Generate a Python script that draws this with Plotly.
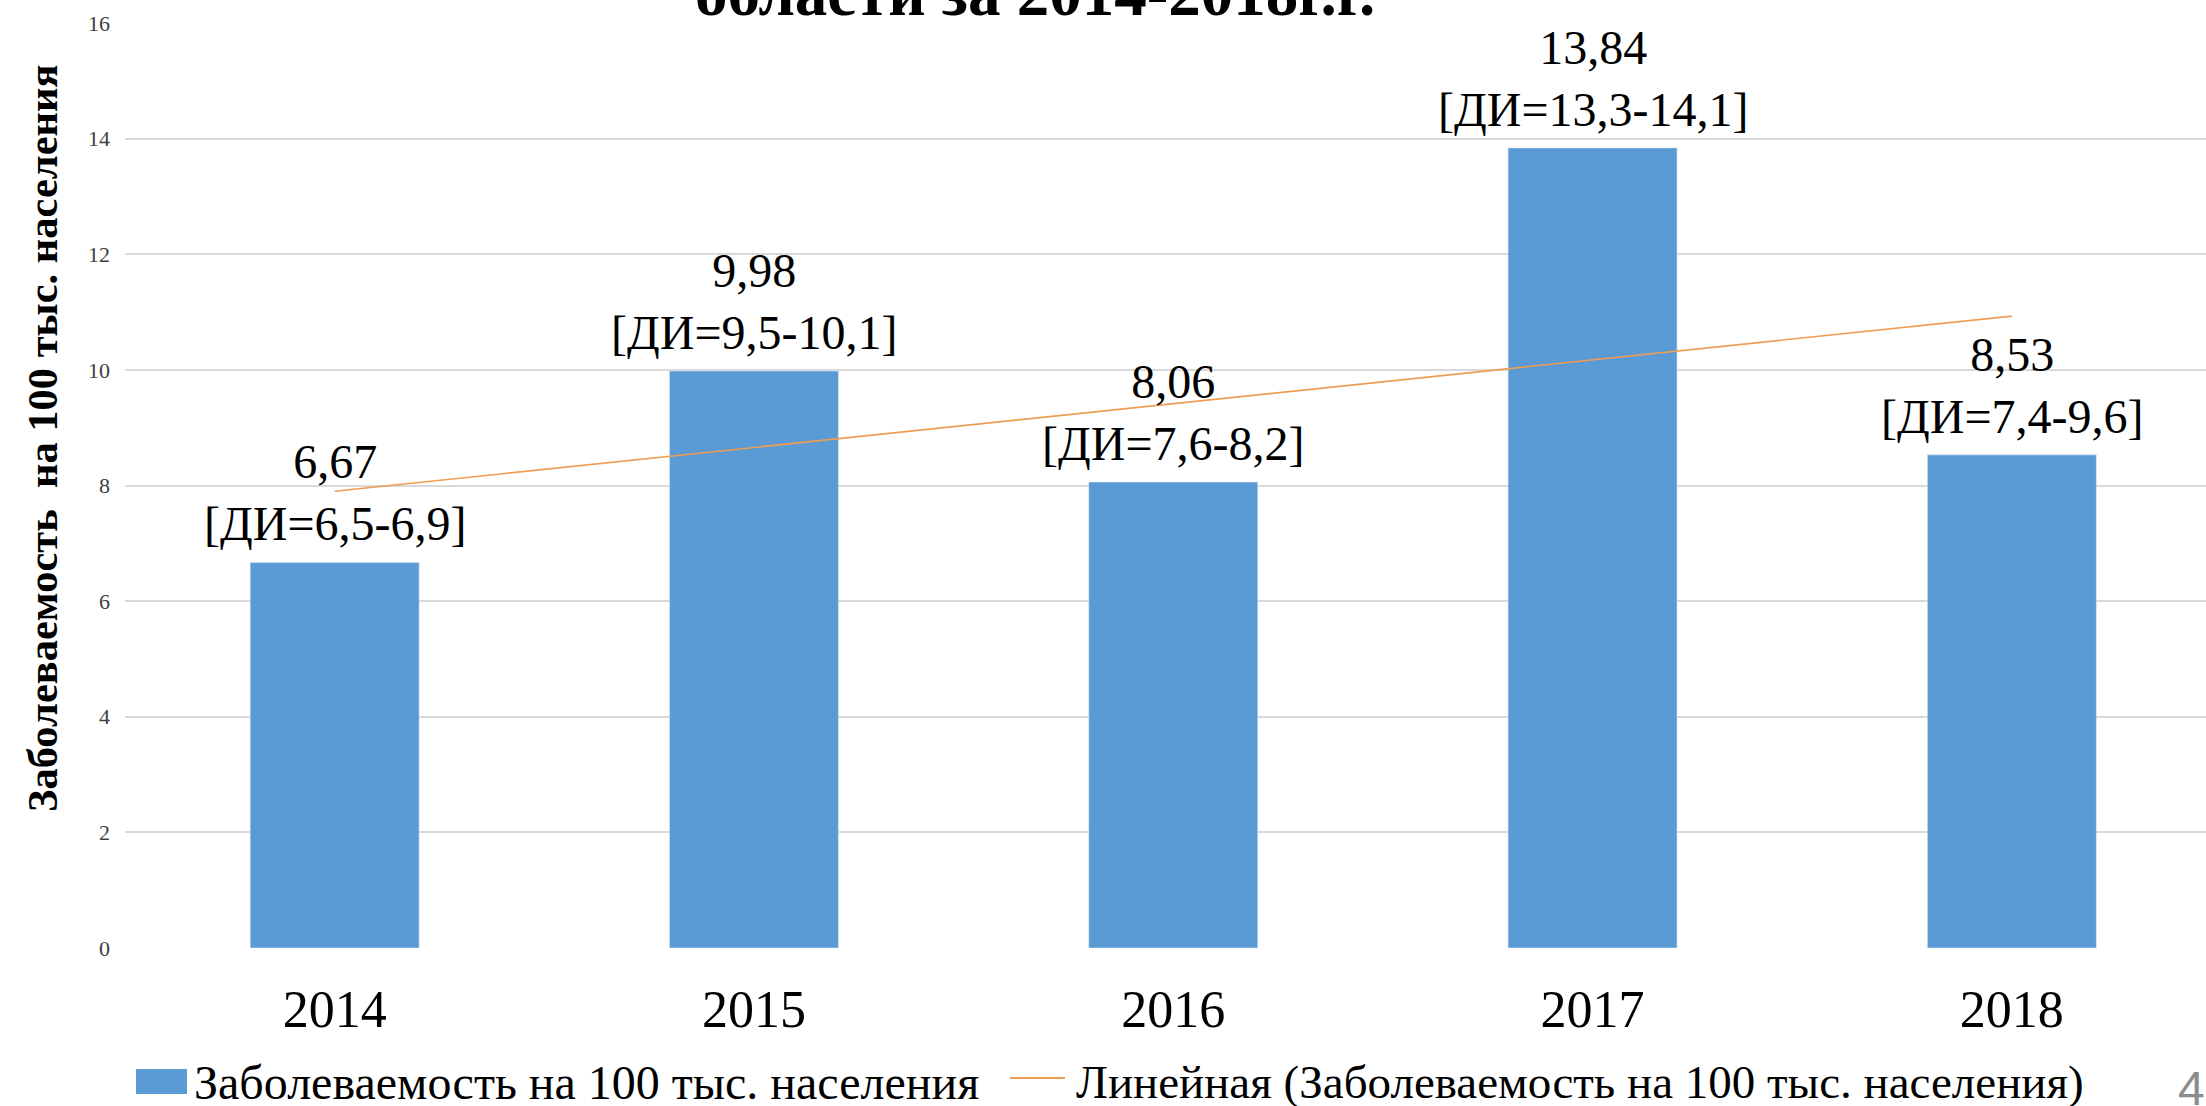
import plotly.graph_objects as go

years = ["2014", "2015", "2016", "2017", "2018"]
rates = [6.67, 9.98, 8.06, 13.84, 8.53]
value_labels = ["6,67", "9,98", "8,06", "13,84", "8,53"]
ci_labels = ["[ДИ=6,5-6,9]", "[ДИ=9,5-10,1]", "[ДИ=7,6-8,2]", "[ДИ=13,3-14,1]", "[ДИ=7,4-9,6]"]
trend_years = ["2014", "2018"]
trend_values = [7.90, 10.93]
y_ticks = [0, 2, 4, 6, 8, 10, 12, 14, 16]

series_name = "Заболеваемость на 100 тыс. населения"
trend_name = "Линейная (Заболеваемость на 100 тыс. населения)"
y_title = "Заболеваемость  на 100 тыс. населения"
title_text = "области за 2014-2018г.г."

BLUE = "#5B9BD5"
ORANGE = "#EE9D52"
SERIF = "Liberation Serif, Times New Roman, serif"

W, H = 2206, 1106
ML, MR, MT, MB = 125, 0, 23, 158
PW, PH = W - ML - MR, H - MT - MB

def px_x(px):
    return (px - ML) / PW

def px_y(py):
    return (H - MB - py) / PH

fig = go.Figure()
fig.add_trace(go.Bar(x=years, y=rates, name=series_name, marker_color=BLUE,
                     width=0.403, showlegend=False))
fig.add_trace(go.Scatter(x=trend_years, y=trend_values, mode="lines", name=trend_name,
                         line=dict(color=ORANGE, width=1.6), showlegend=False))

annotations = []
for i, (v, vl, ci) in enumerate(zip(rates, value_labels, ci_labels)):
    annotations.append(dict(x=i, y=v, xref="x", yref="y", text=vl + "<br>" + ci,
                            showarrow=False, yanchor="bottom", yshift=10,
                            font=dict(family=SERIF, size=48, color="#000000")))

# title (partially cut off at top)
annotations.append(dict(x=px_x(1035), y=px_y(31), xref="paper", yref="paper", text="<b>" + title_text + "</b>",
                        showarrow=False, xanchor="center", yanchor="bottom",
                        font=dict(family=SERIF, size=65, color="#000000")))
# y-axis title
annotations.append(dict(x=px_x(42), y=px_y(438), xref="paper", yref="paper", text="<b>" + y_title + "</b>",
                        showarrow=False, textangle=-90, xanchor="center", yanchor="middle",
                        font=dict(family=SERIF, size=42.5, color="#000000")))
# legend texts
annotations.append(dict(x=px_x(192), y=px_y(1082), xref="paper", yref="paper", text=series_name,
                        showarrow=False, xanchor="left", yanchor="middle",
                        font=dict(family=SERIF, size=48, color="#000000")))
annotations.append(dict(x=px_x(1074), y=px_y(1082), xref="paper", yref="paper", text=trend_name,
                        showarrow=False, xanchor="left", yanchor="middle",
                        font=dict(family=SERIF, size=47, color="#000000")))
# slide number
annotations.append(dict(x=px_x(2176), y=px_y(1088), xref="paper", yref="paper", text="4",
                        showarrow=False, xanchor="left", yanchor="middle",
                        font=dict(family="Liberation Sans, Arial, sans-serif", size=48, color="#8C8C8C")))

shapes = [
    dict(type="rect", xref="paper", yref="paper", x0=px_x(136), x1=px_x(187), y0=px_y(1094), y1=px_y(1069),
         fillcolor=BLUE, line=dict(width=0)),
    dict(type="line", xref="paper", yref="paper", x0=px_x(1010), x1=px_x(1065), y0=px_y(1078), y1=px_y(1078),
         line=dict(color=ORANGE, width=2)),
]

fig.update_layout(
    width=W, height=H,
    margin=dict(l=ML, r=MR, t=MT, b=MB, pad=0),
    paper_bgcolor="white", plot_bgcolor="white",
    showlegend=False,
    annotations=annotations, shapes=shapes,
    xaxis=dict(type="category", range=[-0.5, 4.463], showgrid=False, zeroline=False, showline=False,
               ticks="", tickfont=dict(family=SERIF, size=52, color="#000000"), ticklabelstandoff=26),
    yaxis=dict(range=[0, 16], tickvals=y_ticks, ticktext=[str(t) for t in y_ticks],
               showgrid=True, gridcolor="#D9D9D9", gridwidth=2, zeroline=False, showline=False,
               ticks="", tickfont=dict(family=SERIF, size=22, color="#404040"), ticklabelstandoff=14),
)

fig.write_html("out.html", config={"displayModeBar": False},
               post_script="document.body.style.margin='0';document.body.style.overflow='hidden';")
